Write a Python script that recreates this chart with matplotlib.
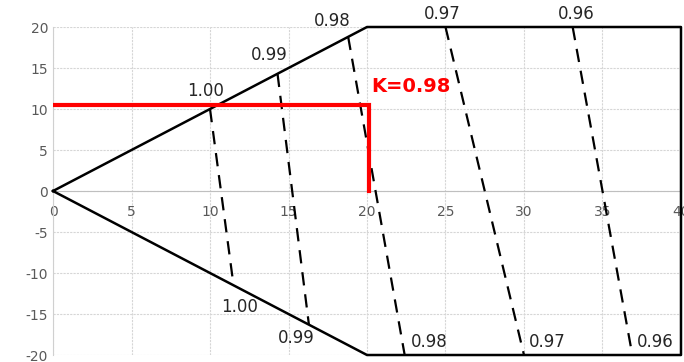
import numpy as np
import matplotlib
matplotlib.use("Agg")
import matplotlib.pyplot as plt

plt.rcParams["axes.unicode_minus"] = False

# boundary of the region
edge_x = [0, 20, 40, 40, 20, 0]
edge_y = [0, 20, 20, -20, -20, 0]

# constant K lines: top end and bottom end
k_labels = ["1.00", "0.99", "0.98", "0.97", "0.96"]
top_x = [10.0, 14.3, 18.8, 25.0, 33.1]
top_y = [10.0, 14.3, 18.8, 20.0, 20.0]
bot_x = [11.5, 16.3, 22.4, 30.0, 36.9]
bot_y = [-11.5, -16.3, -20.0, -20.0, -20.0]

# where the labels sit
top_lab_x = [9.7, 13.8, 17.8, 24.8, 33.3]
top_lab_y = [12.2, 16.6, 20.7, 21.6, 21.6]
bot_lab_x = [11.9, 15.5, 22.8, 30.3, 37.2]
bot_lab_y = [-14.1, -17.9, -18.4, -18.4, -18.4]
bot_ha = ["center", "center", "left", "left", "left"]

# reading point
read_x = 20.1
read_y = 10.5
read_text = "K=0.98"

fig = plt.figure(figsize=(6.84, 3.62), dpi=100)
ax = fig.add_axes([0.0775, 0.0193, 0.9181, 0.9061])
ax.set_xlim(0, 40)
ax.set_ylim(-20, 20)

ax.set_xticks(np.arange(0, 41, 5))
ax.set_yticks(np.arange(-20, 21, 5))
ax.grid(True, color="#d6d6d6", linestyle=(0, (2, 1)), linewidth=0.8)
ax.set_axisbelow(True)

for s in ["top", "right"]:
    ax.spines[s].set_visible(False)
ax.spines["bottom"].set_position(("data", 0))
ax.spines["bottom"].set_color("#bfbfbf")
ax.spines["left"].set_color("#d0d0d0")
ax.tick_params(length=0, labelsize=10, colors="#595959")
ax.tick_params(axis="x", pad=10)

ax.plot(edge_x, edge_y, color="black", linewidth=1.8, clip_on=False, zorder=3)

for i in range(len(k_labels)):
    ax.plot([top_x[i], bot_x[i]], [top_y[i], bot_y[i]], color="black",
            linewidth=1.6, linestyle=(0, (6, 4)), zorder=3)
    ax.text(top_lab_x[i], top_lab_y[i], k_labels[i], fontsize=12,
            ha="center", va="center", color="#262626", clip_on=False)
    ax.text(bot_lab_x[i], bot_lab_y[i], k_labels[i], fontsize=12,
            ha=bot_ha[i], va="center", color="#262626")

ax.plot([0, read_x, read_x], [read_y, read_y, 0], color="red",
        linewidth=3, zorder=4, solid_joinstyle="miter")
ax.text(read_x + 0.2, 12.7, read_text, color="red", fontsize=14,
        fontweight="bold", ha="left", va="center")

fig.savefig("out.png", dpi=100)
